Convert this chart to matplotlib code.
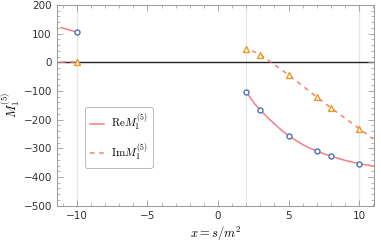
import matplotlib
matplotlib.use("Agg")
import matplotlib.pyplot as plt
from matplotlib.ticker import MultipleLocator

plt.rcParams["mathtext.fontset"] = "cm"

## DATA

reX = [-10, 2, 3, 5, 7, 8, 10]
reY = [105, -102, -167, -256, -310, -327, -354]

imX = [-10, 2, 3, 5, 7, 8, 10]
imY = [0, 48, 27, -44, -121, -159, -231]

reCurveLeftX = [-11.1, -10]
reCurveLeftY = [121, 105]
imCurveLeftX = [-11.1, -10]
imCurveLeftY = [0, 0]

reCurveX = [2, 2.3, 2.6, 3, 3.5, 4, 4.5, 5, 5.5, 6, 6.5, 7, 7.5, 8, 8.5, 9, 9.5, 10, 10.5, 11]
reCurveY = [-102, -125, -145, -167, -192, -215, -237, -256, -272, -287, -299, -310, -319, -327, -335, -342, -348, -354, -358, -362]

imCurveX = [2.4, 3, 5, 7, 8, 10, 11]
imCurveY = [40, 27, -44, -121, -159, -231, -268]

vLines = [-10, 2, 10]

lineColor = "#f77f7f"
reColor = "#4a72bd"
imColor = "#e89a1c"

## PLOT

fig = plt.figure(figsize=(3.81, 2.46), dpi=100)
ax = fig.add_axes([0.149, 0.164, 0.833, 0.816])

for v in vLines:
    ax.axvline(v, color="#e6e6e6", linewidth=0.9, zorder=0)
ax.axhline(0, color="#222222", linewidth=1.0, zorder=1)

ax.plot(reCurveLeftX, reCurveLeftY, color=lineColor, linewidth=1.1, zorder=2)
ax.plot(imCurveLeftX, imCurveLeftY, color=lineColor, linewidth=1.1, linestyle=(0, (3, 3)), zorder=2)
ax.plot(reCurveX, reCurveY, color=lineColor, linewidth=1.1, zorder=2, label=r"$\mathrm{Re}M_1^{(5)}$")
ax.plot(imCurveX, imCurveY, color=lineColor, linewidth=1.1, linestyle=(0, (3, 3)), zorder=2, label=r"$\mathrm{Im}M_1^{(5)}$")

ax.scatter(reX, reY, marker="o", s=13, facecolors="white", edgecolors=reColor, linewidths=1.0, zorder=3)
ax.scatter(imX, imY, marker="^", s=18, facecolors="white", edgecolors=imColor, linewidths=1.0, zorder=3)

ax.set_xlim(-11.42, 11.06)
ax.set_ylim(-500, 200)
ax.xaxis.set_major_locator(MultipleLocator(5))
ax.xaxis.set_minor_locator(MultipleLocator(1))
ax.yaxis.set_major_locator(MultipleLocator(100))
ax.yaxis.set_minor_locator(MultipleLocator(20))
ax.tick_params(which="both", direction="in", top=True, right=True, color="#999999", labelsize=7.5, labelcolor="#333333")
ax.tick_params(which="major", length=4, width=0.6)
ax.tick_params(which="minor", length=2, width=0.5)
for s in ax.spines.values():
    s.set_color("#999999")
    s.set_linewidth(0.7)

ax.set_xlabel(r"$x = s/m^2$", fontsize=9, labelpad=3)
ax.set_ylabel(r"$M_1^{(5)}$", fontsize=9)
ax.yaxis.set_label_coords(-0.108, 0.5)

leg = ax.legend(loc="upper left", bbox_to_anchor=(0.089, 0.492), fontsize=8, frameon=True,
                fancybox=True, handlelength=1.3, handletextpad=0.6, labelspacing=0.7,
                borderpad=0.45, borderaxespad=0)
leg.get_frame().set_edgecolor("#aaaaaa")
leg.get_frame().set_linewidth(0.7)

fig.savefig("out.png", dpi=100)
